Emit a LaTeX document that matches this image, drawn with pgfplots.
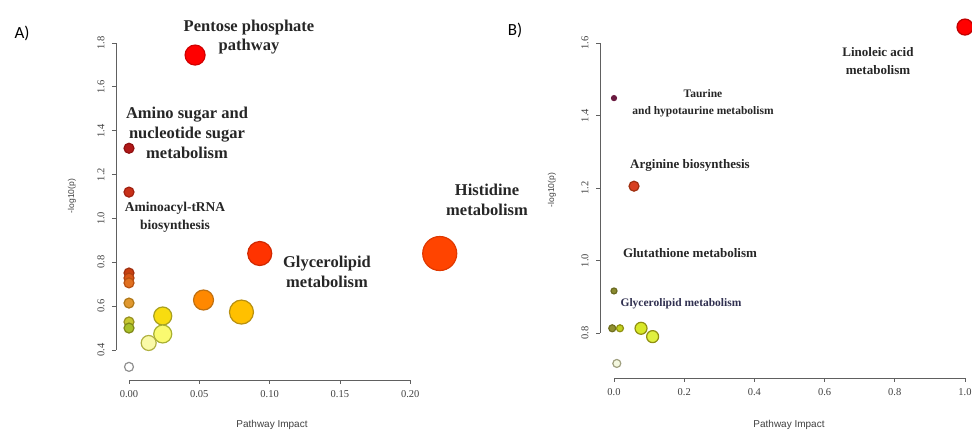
\documentclass[border=0pt]{standalone}
\usepackage{pgfplots}
\pgfplotsset{compat=1.18}
\usepackage{fontspec}
\setmainfont{Liberation Serif}
\newfontfamily\sansf{Liberation Sans}
\newfontfamily\calf{Carlito}
\definecolor{axgrey}{HTML}{606060}
\definecolor{tickgrey}{HTML}{404040}
\definecolor{annB}{HTML}{303050}
% fills / edges panel A
\definecolor{fa1}{HTML}{FF0000}\definecolor{ea1}{HTML}{D00000}
\definecolor{fa2}{HTML}{B01818}\definecolor{ea2}{HTML}{901010}
\definecolor{fa3}{HTML}{C83018}\definecolor{ea3}{HTML}{A02010}
\definecolor{fa4}{HTML}{FF3300}\definecolor{ea4}{HTML}{D02800}
\definecolor{fa5}{HTML}{FF4400}\definecolor{ea5}{HTML}{E03800}
\definecolor{fa6}{HTML}{C84010}\definecolor{ea6}{HTML}{A03010}
\definecolor{fa7}{HTML}{D85818}\definecolor{ea7}{HTML}{B04010}
\definecolor{fa8}{HTML}{E07020}\definecolor{ea8}{HTML}{B85010}
\definecolor{fa9}{HTML}{E09830}\definecolor{ea9}{HTML}{B07818}
\definecolor{fa10}{HTML}{C8C830}\definecolor{ea10}{HTML}{989020}
\definecolor{fa11}{HTML}{A8C028}\definecolor{ea11}{HTML}{808818}
\definecolor{fa12}{HTML}{FFFFFF}\definecolor{ea12}{HTML}{909090}
\definecolor{fa13}{HTML}{FF8800}\definecolor{ea13}{HTML}{C07010}
\definecolor{fa14}{HTML}{FFC000}\definecolor{ea14}{HTML}{B89010}
\definecolor{fa15}{HTML}{F8DC10}\definecolor{ea15}{HTML}{A8A020}
\definecolor{fa16}{HTML}{FAFA70}\definecolor{ea16}{HTML}{A8B030}
\definecolor{fa17}{HTML}{FAFAA8}\definecolor{ea17}{HTML}{B0B040}
% panel B
\definecolor{fb1}{HTML}{FF0000}\definecolor{eb1}{HTML}{C00000}
\definecolor{fb2}{HTML}{6A1A40}\definecolor{eb2}{HTML}{6A1A40}
\definecolor{fb3}{HTML}{D84020}\definecolor{eb3}{HTML}{A03010}
\definecolor{fb4}{HTML}{8A8A30}\definecolor{eb4}{HTML}{6A6A20}
\definecolor{fb5}{HTML}{909030}\definecolor{eb5}{HTML}{707020}
\definecolor{fb6}{HTML}{C0D020}\definecolor{eb6}{HTML}{909010}
\definecolor{fb7}{HTML}{D8E828}\definecolor{eb7}{HTML}{909010}
\definecolor{fb8}{HTML}{E0F040}\definecolor{eb8}{HTML}{909010}
\definecolor{fb9}{HTML}{F4F8E0}\definecolor{eb9}{HTML}{A0A080}
\newcommand{\bub}[5]{\addplot[only marks, mark=*, mark size=#3pt, mark options={fill=#4, draw=#5, line width=1.2pt}] coordinates {(#1,#2)};}
\pgfplotsset{rstyle/.style={
  scale only axis, enlargelimits=false, clip=false,
  axis x line*=bottom, axis y line*=left,
  axis line style={axgrey, line width=0.8pt},
  tick style={axgrey, line width=0.8pt},
  tick align=outside, major tick length=4pt,
  ticklabel style={font=\fontsize{10.5}{11}\selectfont, text=tickgrey},
  xticklabel shift=3pt, yticklabel shift=4pt,
  yticklabel style={rotate=90, anchor=south},
}}
\begin{document}
\begin{tikzpicture}[x=1pt,y=1pt]
\useasboundingbox (0,0) rectangle (972,430);
% Panel A
\begin{axis}[rstyle,
  at={(129pt,80pt)}, anchor=south west,
  width=281.2pt, height=307pt,
  xmin=0, xmax=0.2, ymin=0.4, ymax=1.8,
  axis x line shift=30pt, axis y line shift=13pt,
  xtick={0,0.05,0.1,0.15,0.2}, xticklabels={0.00,0.05,0.10,0.15,0.20},
  ytick={0.4,0.6,0.8,1.0,1.2,1.4,1.6,1.8}, yticklabels={0.4,0.6,0.8,1.0,1.2,1.4,1.6,1.8},
]
\bub{0.047}{1.745}{10}{fa1}{ea1}
\bub{0}{1.32}{5}{fa2}{ea2}
\bub{0}{1.12}{5}{fa3}{ea3}
\bub{0.093}{0.84}{12}{fa4}{ea4}
\bub{0.221}{0.84}{17}{fa5}{ea5}
\bub{0}{0.751}{5}{fa6}{ea6}
\bub{0}{0.728}{5}{fa7}{ea7}
\bub{0}{0.706}{5}{fa8}{ea8}
\bub{0}{0.614}{5}{fa9}{ea9}
\bub{0}{0.528}{5}{fa10}{ea10}
\bub{0}{0.50}{5}{fa11}{ea11}
\bub{0}{0.323}{4.5}{fa12}{ea12}
\bub{0.053}{0.628}{10}{fa13}{ea13}
\bub{0.080}{0.573}{12}{fa14}{ea14}
\bub{0.024}{0.555}{9}{fa15}{ea15}
\bub{0.024}{0.473}{9}{fa16}{ea16}
\bub{0.014}{0.432}{7.5}{fa17}{ea17}
\end{axis}
% Panel B
\begin{axis}[rstyle,
  at={(614pt,97pt)}, anchor=south west,
  width=351pt, height=290pt,
  xmin=0, xmax=1, ymin=0.8, ymax=1.6,
  axis x line shift=45pt, axis y line shift=14pt,
  xtick={0,0.2,0.4,0.6,0.8,1.0}, xticklabels={0.0,0.2,0.4,0.6,0.8,1.0},
  ytick={0.8,1.0,1.2,1.4,1.6}, yticklabels={0.8,1.0,1.2,1.4,1.6},
]
\bub{1.0}{1.644}{8}{fb1}{eb1}
\bub{0}{1.448}{2.5}{fb2}{eb2}
\bub{0.057}{1.205}{5}{fb3}{eb3}
\bub{0}{0.916}{3}{fb4}{eb4}
\bub{-0.005}{0.813}{3.5}{fb5}{eb5}
\bub{0.017}{0.813}{3.5}{fb6}{eb6}
\bub{0.077}{0.813}{6}{fb7}{eb7}
\bub{0.11}{0.79}{6}{fb8}{eb8}
\bub{0.008}{0.716}{4}{fb9}{eb9}
\end{axis}
% Panel letters
\node[font=\calf\fontsize{17}{17}\selectfont] at (22,397) {A)};
\node[font=\calf\fontsize{17}{17}\selectfont] at (515,400) {B)};
% Axis titles
\node[font=\sansf\fontsize{10}{10}\selectfont, text=tickgrey] at (272,5) {Pathway Impact};
\node[font=\sansf\fontsize{10}{10}\selectfont, text=tickgrey] at (789,5) {Pathway Impact};
\node[font=\sansf\fontsize{8.5}{9}\selectfont, text=tickgrey, rotate=90] at (72,234) {-log10(p)};
\node[font=\sansf\fontsize{8.5}{9}\selectfont, text=tickgrey, rotate=90] at (552,240) {-log10(p)};
% Annotations
\begin{scope}[every node/.style={align=center, text=black!85, inner sep=0pt}]
\node[font=\bfseries\fontsize{16.5}{19}\selectfont] at (249,393) {Pentose phosphate\\pathway};
\node[font=\bfseries\fontsize{16.5}{20}\selectfont] at (187,297) {Amino sugar and\\nucleotide sugar\\metabolism};
\node[font=\bfseries\fontsize{13.5}{18}\selectfont] at (175,213) {Aminoacyl-tRNA\\biosynthesis};
\node[font=\bfseries\fontsize{16.5}{20}\selectfont] at (487,230) {Histidine\\metabolism};
\node[font=\bfseries\fontsize{16.5}{20}\selectfont] at (327,158) {Glycerolipid\\metabolism};
\node[font=\bfseries\fontsize{13}{18}\selectfont] at (878,369) {Linoleic acid\\metabolism};
\node[font=\bfseries\fontsize{11.5}{17}\selectfont] at (703,327) {Taurine\\and hypotaurine metabolism};
\node[font=\bfseries\fontsize{13}{14}\selectfont] at (690,265) {Arginine biosynthesis};
\node[font=\bfseries\fontsize{13}{14}\selectfont] at (690,177) {Glutathione metabolism};
\node[font=\bfseries\fontsize{11.5}{13}\selectfont, text=annB] at (681,126) {Glycerolipid metabolism};
\end{scope}
\end{tikzpicture}
\end{document}
